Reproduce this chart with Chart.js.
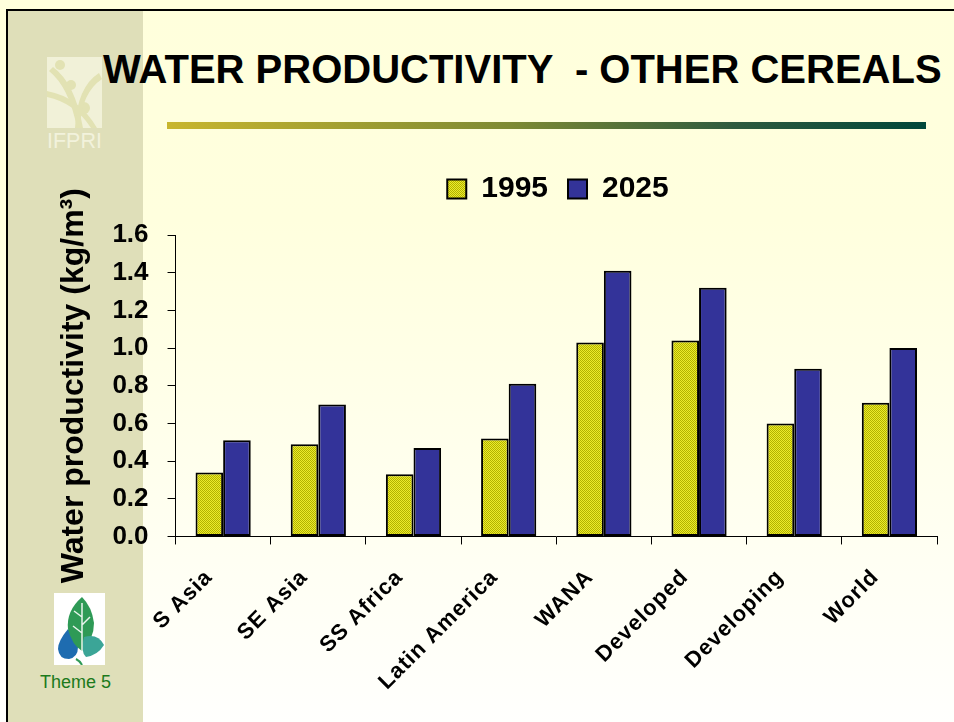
<!DOCTYPE html>
<html>
<head>
<meta charset="utf-8">
<script src="https://cdn.jsdelivr.net/npm/chart.js@4.4.0/dist/chart.umd.min.js"></script>
<style>
  html, body { margin: 0; padding: 0; }
  body { width: 954px; height: 722px; position: relative; overflow: hidden; font-family: "Liberation Sans", Arial, sans-serif; }
  #slide { position: absolute; left: 0; top: 0; width: 954px; height: 722px;
    background: linear-gradient(to bottom, #FFFFDC 0px, #FFFFDE 220px, #FFFFFD 722px); }
  #strip { position: absolute; left: 8px; top: 11px; width: 135px; height: 711px; background: #DFDFB9; }
  #frame { position: absolute; left: 6px; top: 9px; width: 960px; height: 720px; border-left: 2px solid #000; border-top: 2px solid #000; }
  #ifpri { position: absolute; left: 47px; top: 57px; }
  #ifpriText { position: absolute; left: 47px; top: 129px; font-size: 21.5px; color: #F2F2DC; }
  #title { position: absolute; left: 103px; top: 47px; font-size: 40px; font-weight: bold; color: #000; white-space: pre; }
  #rule { position: absolute; left: 167px; top: 122px; width: 759px; height: 7px;
    background: linear-gradient(to right, #C8B62E, #7E8A34 45%, #2E5A3E 75%, #00473A); }
  #theme { position: absolute; left: 54px; top: 593px; }
  #themeText { position: absolute; left: 40px; top: 672px; font-size: 18px; color: #1C7A1C; }
  #wrap { position: absolute; left: 0; top: 0; width: 954px; height: 722px; }
</style>
</head>
<body>
<div id="slide"></div>
<div id="strip"></div>
<div id="frame"></div>
<svg id="ifpri" width="55" height="71" viewBox="0 0 55 71">
  <rect x="0" y="0" width="55" height="71" fill="#F1F1D8"/>
  <circle cx="13" cy="8" r="5" fill="#E2E2B3"/>
  <circle cx="24" cy="28" r="5" fill="#E2E2B3"/>
  <circle cx="37" cy="51" r="6" fill="#E2E2B3"/>
  <path d="M2 14 Q22 30 30 71 L36 71 Q28 26 6 10 Z" fill="#E2E2B3"/>
  <path d="M52 16 Q30 30 28 71 L33 71 Q34 36 55 22 Z" fill="#E2E2B3"/>
  <path d="M0 40 Q28 46 44 71 L50 71 Q32 40 0 34 Z" fill="#E2E2B3"/>
</svg>
<div id="ifpriText">IFPRI</div>
<div id="title">WATER PRODUCTIVITY  - OTHER CEREALS</div>
<div id="rule"></div>
<svg id="theme" width="51" height="72" viewBox="0 0 51 72">
  <rect x="0" y="0" width="51" height="72" fill="#FFFFFF"/>
  <path d="M14 36 Q4 48 4 56 Q5 66 15 66 Q24 64 24 54 Q22 44 14 36 Z" fill="#1E6CB0"/>
  <path d="M28 4 Q12 18 14 36 Q18 52 28 58 Q40 46 40 30 Q38 14 28 4 Z" fill="#2E9A56"/>
  <path d="M30 44 Q44 40 50 52 Q44 62 32 64 Q26 58 30 44 Z" fill="#3BA597"/>
  <path d="M28 10 L28 58 M28 24 L20 18 M28 32 L36 24 M28 40 L19 33" stroke="#E8F4EC" stroke-width="1.5" fill="none"/>
  <path d="M22 66 Q26 68 28 72" stroke="#2E9A56" stroke-width="2" fill="none"/>
</svg>
<div id="themeText">Theme 5</div>
<div id="wrap"><canvas id="chart" width="954" height="722"></canvas></div>

<script>
'use strict';

// data
var regions = ['S Asia', 'SE Asia', 'SS Africa', 'Latin America', 'WANA', 'Developed', 'Developing', 'World'];
var wp1995 = [0.34, 0.49, 0.33, 0.52, 1.03, 1.04, 0.60, 0.71];
var wp2025 = [0.51, 0.70, 0.47, 0.81, 1.41, 1.32, 0.89, 1.00];
var yMin = 0, yMax = 1.6, yStep = 0.2;

// dotted yellow fill like the old excel pattern
function makeDots() {
  var c = document.createElement('canvas');
  c.width = 2; c.height = 2;
  var g = c.getContext('2d');
  g.fillStyle = '#ECEC2C'; g.fillRect(0, 0, 2, 2);
  g.fillStyle = '#B2B200'; g.fillRect(0, 0, 1, 1); g.fillRect(1, 1, 1, 1);
  return g.createPattern(c, 'repeat');
}

var FONT = '"Liberation Sans", Arial, sans-serif';
var X_SPACING = '1px';

// legend: a bit more room under it, and sit it over the plot centre
// x labels: slightly spaced out like the slide
var tweaks = {
  id: 'tweaks',
  beforeInit: function (chart) {
    var fit = chart.legend.fit;
    chart.legend.fit = function () {
      fit.bind(chart.legend)();
      this.height += 21;
    };
  },
  afterLayout: function (chart) {
    chart.legend.left += 62;
    chart.legend.right += 62;
    var sx = chart.scales.x;
    if (!sx._spaced) {
      var draw = sx.drawLabels;
      sx.drawLabels = function (area) {
        var c = this.ctx;
        c.save();
        c.letterSpacing = X_SPACING;
        draw.call(this, area);
        c.restore();
      };
      sx._spaced = true;
    }
  }
};

var ctx = document.getElementById('chart').getContext('2d');
var chart = new Chart(ctx, {
  type: 'bar',
  data: {
    labels: regions,
    datasets: [
      { label: '1995', data: wp1995, backgroundColor: makeDots(), borderColor: '#000', borderWidth: 2, borderSkipped: false },
      { label: '2025', data: wp2025, backgroundColor: '#333399', borderColor: '#000', borderWidth: 2, borderSkipped: false }
    ]
  },
  plugins: [tweaks],
  options: {
    responsive: false,
    animation: false,
    layout: { padding: { left: 55, right: 17, top: 154, bottom: 16 } },
    plugins: {
      legend: {
        display: true,
        labels: {
          color: '#000',
          font: { family: FONT, size: 30, weight: 'bold' },
          boxWidth: 19, boxHeight: 19, padding: 20
        }
      },
      tooltip: { enabled: false }
    },
    datasets: { bar: { categoryPercentage: 0.58, barPercentage: 1.0 } },
    scales: {
      x: {
        grid: { drawOnChartArea: false, color: '#000', tickLength: 8 },
        border: { color: '#000', width: 1 },
        ticks: {
          color: '#000', autoSkip: false, minRotation: 45, maxRotation: 45, padding: 20, labelOffset: -14,
          font: { family: FONT, size: 22, weight: 'bold' }
        }
      },
      y: {
        min: yMin, max: yMax,
        grid: { drawOnChartArea: false, color: '#000', tickLength: 8 },
        border: { color: '#000', width: 1 },
        ticks: {
          stepSize: yStep, color: '#000', padding: 19,
          font: { family: FONT, size: 26, weight: 'bold' },
          callback: function (v) { return Number(v).toFixed(1); }
        },
        title: {
          display: true, text: 'Water productivity (kg/m³)', color: '#000',
          font: { family: FONT, size: 32, weight: 'bold', lineHeight: 1.2 },
          padding: { top: 0, bottom: 0 }
        }
      }
    }
  }
});
</script>
</body>
</html>
